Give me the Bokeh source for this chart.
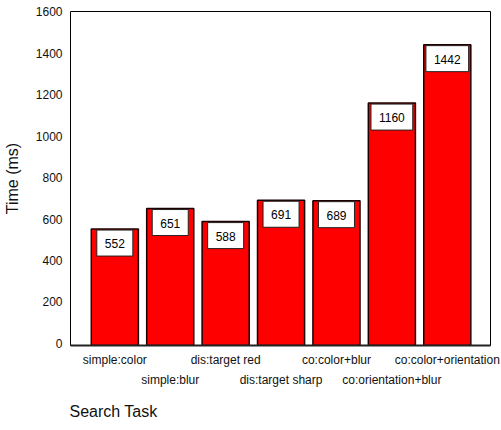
from bokeh.plotting import figure
from bokeh.models import (ColumnDataSource, Range1d, FixedTicker, LinearAxis,
                          Title)
from bokeh.core.properties import value
from bokeh.embed import file_html
from bokeh.resources import INLINE

tasks = ["simple:color", "simple:blur", "dis:target red", "dis:target sharp",
         "co:color+blur", "co:orientation+blur", "co:color+orientation"]
times = [552, 651, 588, 691, 689, 1160, 1442]
y_ticks = [0, 200, 400, 600, 800, 1000, 1200, 1400, 1600]

FONT = "Liberation Sans"
Y_START, Y_END = -10, 1602
idx = list(range(len(tasks)))
src = ColumnDataSource(dict(x=idx, top=times, label=[str(t) for t in times]))

p = figure(width=501, height=430, output_backend="svg", toolbar_location=None,
           x_range=Range1d(-0.8, 6.78), y_range=Range1d(Y_START, Y_END),
           x_axis_location=None, min_border_left=69, min_border_right=11,
           min_border_top=11, min_border_bottom=85)
p.grid.visible = False
p.outline_line_color = "black"
p.outline_line_width = 1
p.background_fill_color = "white"
p.border_fill_color = "white"

p.vbar(x="x", top="top", bottom=Y_START, width=0.85, source=src,
       fill_color="#ff0000", line_color="#1a0000", line_width=1.5)

p.text(x="x", y="top", text="label", source=src,
       text_align="center", text_baseline="top", y_offset=1,
       text_font=value(FONT), text_font_size="12px", text_color="black",
       background_fill_color="white", border_line_color="#222222",
       border_line_width=1,
       padding=dict(left=8, right=8, top=9, bottom=8))

# y axis
ya = p.yaxis[0]
ya.ticker = FixedTicker(ticks=y_ticks)
ya.axis_line_color = None
ya.major_tick_out = 0
ya.major_tick_in = 0
ya.minor_tick_line_color = None
ya.major_label_standoff = 8
ya.major_label_text_font = FONT
ya.major_label_text_font_size = "12px"
ya.major_label_text_color = "#111111"
ya.axis_label = "Time (ms)"
ya.axis_label_text_font = FONT
ya.axis_label_text_font_size = "16px"
ya.axis_label_text_font_style = "normal"
ya.axis_label_text_color = "#111111"
ya.axis_label_standoff = 12

even = [i for i in idx if i % 2 == 0]
odd = [i for i in idx if i % 2 == 1]

ax1 = LinearAxis(ticker=FixedTicker(ticks=even),
                 major_label_overrides={i: tasks[i] for i in even})
ax2 = LinearAxis(ticker=FixedTicker(ticks=odd),
                 major_label_overrides={i: tasks[i] for i in odd})
for ax in (ax1, ax2):
    ax.major_tick_out = 0
    ax.major_tick_in = 0
    ax.minor_tick_line_color = None
    ax.major_label_text_font = FONT
    ax.major_label_text_font_size = "12px"
    ax.major_label_text_color = "#111111"
ax1.axis_line_color = "#222222"
ax1.axis_line_width = 2
ax1.major_label_standoff = 7
ax2.axis_line_color = None
ax2.major_label_standoff = 3
p.add_layout(ax1, "below")
p.add_layout(ax2, "below")

p.add_layout(Title(text="Search Task", align="left", text_font=FONT,
                   text_font_size="16px", text_font_style="normal",
                   text_color="#111111", standoff=22, offset=-1), "below")

open("out.html", "w").write(file_html(p, INLINE))
